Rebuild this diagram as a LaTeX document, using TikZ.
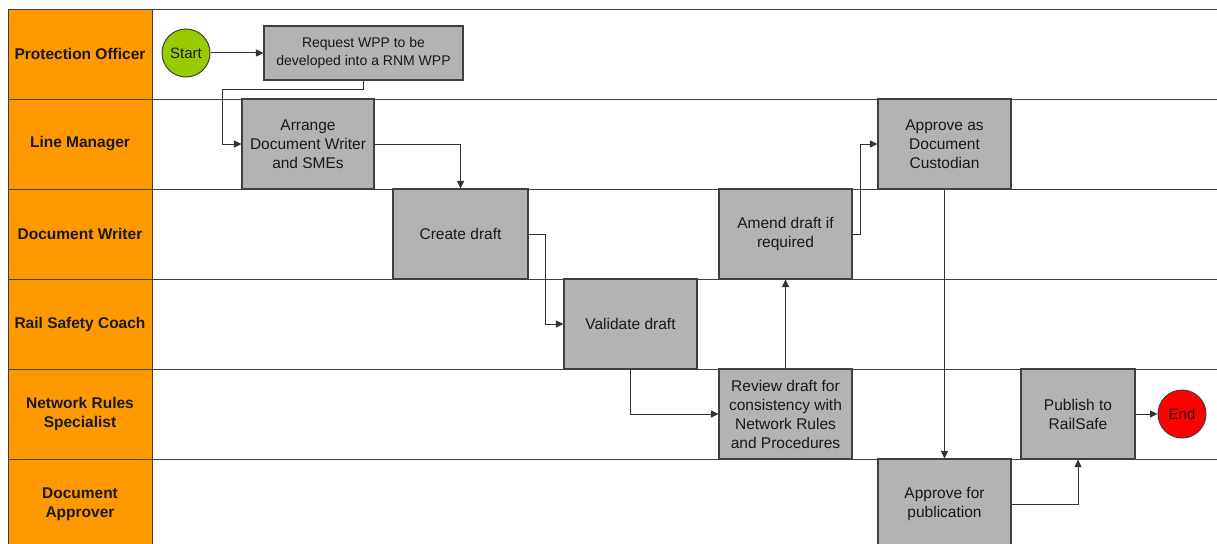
\documentclass[tikz,border=0pt]{standalone}
\usepackage{fontspec}
\setmainfont{Liberation Sans}
\usetikzlibrary{arrows.meta}
\definecolor{laneorange}{RGB}{255,153,0}
\definecolor{boxgray}{RGB}{179,179,179}
\definecolor{startgreen}{RGB}{153,204,0}
\definecolor{endred}{RGB}{255,0,0}
\definecolor{edgegray}{RGB}{64,64,64}
\tikzset{
  laneline/.style={draw=black!75, line width=1pt},
  lanelabel/.style={font=\fontsize{15.5}{19}\selectfont\bfseries, align=center, text=black!90},
  stepbox/.style={draw=edgegray, line width=1.1pt, fill=boxgray, align=center,
    font=\fontsize{15.5}{19}\selectfont, text=black!90, inner sep=0pt,
    minimum width=133pt, minimum height=90pt},
  terminal/.style={circle, draw=edgegray, line width=1pt, minimum size=48pt, inner sep=0pt,
    font=\fontsize{15}{18}\selectfont, text=black!90},
  arr/.style={draw=black!80, line width=1pt, -{Triangle[length=7.5pt,width=7pt]}}
}
\begin{document}
\begin{tikzpicture}[x=1pt,y=-1pt]
\useasboundingbox (0,0) rectangle (1217,543);
\clip (0,0) rectangle (1217,543);
\fill[white] (0,0) rectangle (1217,543);
% label column
\fill[laneorange] (8,10) rectangle (152,552);
\foreach \yy in {10,99,189,279,369,459} {
  \draw[laneline] (8,\yy) -- (1220,\yy);
}
\draw[laneline] (8,10) -- (8,552);
\draw[laneline] (152,10) -- (152,552);
% lane labels
\node[lanelabel] (l1) at (80,54) {Protection Officer};
\node[lanelabel] (l2) at (80,144) {Line Manager};
\node[lanelabel] (l3) at (80,234) {Document Writer};
\node[lanelabel] (l4) at (80,324) {Rail Safety Coach};
\node[lanelabel] (l5) at (80,414) {Network Rules\\Specialist};
\node[lanelabel] (l6) at (80,504) {Document\\Approver};
% nodes
\node[terminal, fill=startgreen] (start) at (186,53) {Start};
\node[stepbox, minimum width=199pt, minimum height=54pt, font=\fontsize{14}{17.3}\selectfont] (req) at (363.5,53) {Request WPP to be\\developed into a RNM WPP};
\node[stepbox, minimum width=132pt] (arrg) at (308,144) {Arrange\\Document Writer\\and SMEs};
\node[stepbox, minimum width=135pt] (create) at (460.5,234) {Create draft};
\node[stepbox] (amend) at (785.5,234) {Amend draft if\\required};
\node[stepbox] (appc) at (944.5,144) {Approve as\\Document\\Custodian};
\node[stepbox] (val) at (630.5,324) {Validate draft};
\node[stepbox] (rev) at (785.5,414) {Review draft for\\consistency with\\Network Rules\\and Procedures};
\node[stepbox] (appp) at (944.5,504) {Approve for\\publication};
\node[stepbox, minimum width=114pt] (pub) at (1078,414) {Publish to\\RailSafe};
\node[terminal, fill=endred] (end) at (1182,414) {End};
% connectors
\draw[arr] (start.east) -- (req.west);
\draw[arr] (req.south) -- ++(0,9) -| ([xshift=-19pt]arrg.west) -- (arrg.west);
\draw[arr] (arrg.east) -| (create.north);
\draw[arr] (create.east) -- ++(17,0) |- (val.west);
\draw[arr] (val.south) |- (rev.west);
\draw[arr] (rev.north) -- (amend.south);
\draw[arr] (amend.east) -- ++(8,0) |- (appc.west);
\draw[arr] (appc.south) -- (appp.north);
\draw[arr] (appp.east) -| (pub.south);
\draw[arr] (pub.east) -- (end.west);
\end{tikzpicture}
\end{document}
